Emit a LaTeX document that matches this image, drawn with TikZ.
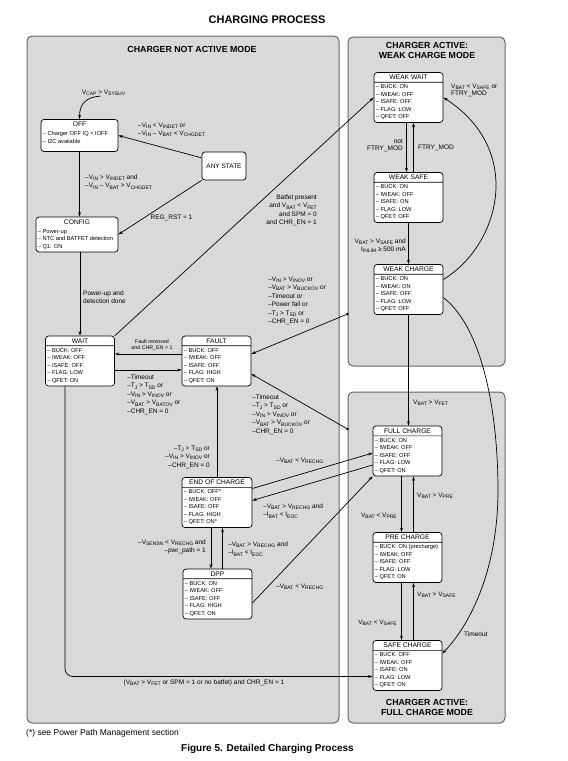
\documentclass[tikz,border=0pt]{standalone}
\usepackage{fontspec}
\setmainfont{Liberation Sans}
\usetikzlibrary{shapes.multipart}
\usetikzlibrary{arrows.meta}
\usetikzlibrary{positioning}

\newcommand{\lo}[1]{\raisebox{-0.35ex}{\fontsize{5}{5}\selectfont#1}}
\newcommand{\hdr}{\fontsize{6.7}{8}\selectfont}

\begin{document}
\begin{tikzpicture}[x=1pt,y=-1pt,>={Stealth[length=4.5pt,width=3pt]},
	modebox/.style={draw=black!60,line width=1pt,fill=black!15,rounded corners=5pt,inner sep=0pt},
	modetitle/.style={inner sep=0pt,align=center,font=\fontsize{8.8}{9.3}\selectfont\bfseries},
	statebox/.style={rectangle split,rectangle split parts=2,rectangle split part align={center,left},draw,fill=white,rounded corners=3pt,line width=0.7pt,minimum width=69pt,inner xsep=1.8pt,inner ysep=2.2pt,align=left,font=\fontsize{5.7}{7.5}\selectfont},
	simplebox/.style={draw,fill=white,rounded corners=3pt,line width=0.7pt,font=\fontsize{6.5}{8}\selectfont},
	lbl/.style={inner sep=0pt,font=\fontsize{6.5}{8.5}\selectfont},
	conn/.style={->,line width=0.7pt}]
	
	\useasboundingbox (0,0) rectangle (568,761);
	
	% modes
	\node[modebox,minimum width=312pt,minimum height=687pt] (notactive) at (183,379.5) {};
	\node[modebox,minimum width=157pt,minimum height=329pt] (weakmode) at (426.5,201.5) {};
	\node[modebox,minimum width=157pt,minimum height=331pt] (fullmode) at (426.5,557.5) {};
	\node[modetitle] (t1) at (192,49) {CHARGER NOT ACTIVE MODE};
	\node[modetitle] (t2) at (427,50.5) {CHARGER ACTIVE:\\WEAK CHARGE MODE};
	\node[modetitle] (t3) at (427,707.5) {CHARGER ACTIVE:\\FULL CHARGE MODE};
	\node[inner sep=0pt,font=\fontsize{11}{13}\selectfont\bfseries] (title) at (267,20) {CHARGING PROCESS};
	
	% states
	\node[statebox,rectangle split draw splits=false,minimum width=77pt] (off) at (79.5,135.5) {{\hdr OFF}\nodepart{two}– Charger OFF IQ < IOFF\\– I2C available\\[-2pt]};
	\node[simplebox,minimum width=44pt,minimum height=28pt] (anystate) at (224,166) {ANY STATE};
	\node[statebox,rectangle split draw splits=false,minimum width=82pt] (config) at (77,234.5) {{\hdr CONFIG}\nodepart{two}– Power-up\\– NTC and BATFET detection\\– Q1: ON};
	\node[statebox] (wait) at (80,361) {{\hdr WAIT}\nodepart{two}– BUCK: OFF\\– IWEAK: OFF\\– ISAFE: OFF\\– FLAG: LOW\\– QFET: ON};
	\node[statebox] (fault) at (216.5,361) {{\hdr FAULT}\nodepart{two}– BUCK: OFF\\– IWEAK: OFF\\– ISAFE: OFF\\– FLAG: HIGH\\– QFET: ON};
	\node[statebox,minimum width=70pt] (eoc) at (217,502.5) {{\hdr END OF CHARGE}\nodepart{two}– BUCK: OFF*\\– IWEAK: OFF\\– ISAFE: OFF\\– FLAG: HIGH\\– QFET: ON*};
	\node[statebox] (dpp) at (217.5,594) {{\hdr DPP}\nodepart{two}– BUCK: ON\\– IWEAK: OFF\\– ISAFE: OFF\\– FLAG: HIGH\\– QFET: ON};
	\node[statebox] (weakwait) at (408.5,97.5) {{\hdr WEAK WAIT}\nodepart{two}– BUCK: ON\\– IWEAK: OFF\\– ISAFE: OFF\\– FLAG: LOW\\– QFET: OFF};
	\node[statebox] (weaksafe) at (408.5,197.5) {{\hdr WEAK SAFE}\nodepart{two}– BUCK: ON\\– IWEAK: OFF\\– ISAFE: ON\\– FLAG: LOW\\– QFET: OFF};
	\node[statebox] (weakcharge) at (408.5,289.5) {{\hdr WEAK CHARGE}\nodepart{two}– BUCK: ON\\– IWEAK: ON\\– ISAFE: OFF\\– FLAG: LOW\\– QFET: OFF};
	\node[statebox] (fullcharge) at (407.5,451) {{\hdr FULL CHARGE}\nodepart{two}– BUCK: ON\\– IWEAK: OFF\\– ISAFE: OFF\\– FLAG: LOW\\– QFET: ON};
	\node[statebox] (precharge) at (407.5,557.5) {{\hdr PRE CHARGE}\nodepart{two}– BUCK: ON (precharge)\\– IWEAK: OFF\\– ISAFE: OFF\\– FLAG: LOW\\– QFET: ON};
	\node[statebox] (safecharge) at (407.5,665.5) {{\hdr SAFE CHARGE}\nodepart{two}– BUCK: OFF\\– IWEAK: OFF\\– ISAFE: ON\\– FLAG: LOW\\– QFET: ON};
	
	\coordinate (weakdot) at (weakmode.west |- 0,314);
	\coordinate (fulldot) at (fullmode.west |- 0,429);
	
	% labels
	\node[lbl] (vcap) at (103.5,93) {V\lo{CAP} > V\lo{SYSUV}};
	\node[lbl,anchor=north west,align=left] (l1) at (138,122.5) {–V\lo{IN} < V\lo{INDET} or\\–V\lo{IN} – V\lo{BAT} < V\lo{CHGDET}};
	\node[lbl,anchor=north west,align=left] (l2) at (85,174.5) {–V\lo{IN} > V\lo{INDET} and\\–V\lo{IN} – V\lo{BAT} > V\lo{CHGDET}};
	\node[lbl] (l3) at (171.5,218) {REG\_RST = 1};
	\node[lbl,anchor=north west,align=left] (l4) at (83,290.5) {Power-up and\\detection done};
	\node[lbl,anchor=north east,align=right] (l5) at (317,194.5) {Batfet present\\and V\lo{BAT} < V\lo{FET}\\and SPM = 0\\and CHR\_EN = 1};
	\node[lbl,anchor=north,align=center,font=\fontsize{5.3}{5.8}\selectfont] (l6) at (152,339.5) {Fault removed\\and CHR\_EN = 1};
	\node[lbl,anchor=north west,align=left] (l7) at (127,374.5) {–Timeout\\–T\lo{J} > T\lo{SD} or\\–V\lo{IN} > V\lo{INOV} or\\–V\lo{BAT} > V\lo{BATOV} or\\–CHR\_EN = 0};
	\node[lbl,anchor=north west,align=left] (l8) at (268,276.5) {–V\lo{IN} > V\lo{INOV} or\\–V\lo{BAT} > V\lo{BUCKOV} or\\–Timeout or\\–Power fail or\\–T\lo{J} > T\lo{SD} or\\–CHR\_EN = 0};
	\node[lbl,anchor=north west,align=left] (l9) at (252,394.5) {–Timeout\\–T\lo{J} > T\lo{SD} or\\–V\lo{IN} > V\lo{INOV} or\\–V\lo{BAT} > V\lo{BUCKOV} or\\–CHR\_EN = 0};
	\node[lbl,anchor=north east,align=right] (l10) at (210,445.5) {–T\lo{J} > T\lo{SD} or\\–V\lo{IN} > V\lo{INOV} or\\–CHR\_EN = 0};
	\node[lbl,anchor=west] (l11) at (276,461) {–V\lo{BAT} < V\lo{RECHG}};
	\node[lbl,anchor=north west,align=left] (l12) at (263,503.5) {–V\lo{BAT} > V\lo{RECHG} and\\–I\lo{BAT} < I\lo{EOC}};
	\node[lbl,anchor=north east,align=right] (l13) at (206,539.5) {–V\lo{SENSN} < V\lo{RECHG} and\\–pwr\_path = 1};
	\node[lbl,anchor=north west,align=left] (l14) at (228,541.5) {–V\lo{BAT} > V\lo{RECHG} and\\–I\lo{BAT} < I\lo{EOC}};
	\node[lbl,anchor=west] (l15) at (276,587) {–V\lo{BAT} < V\lo{RECHG}};
	\node[lbl] (l16) at (204,683) {(V\lo{BAT} > V\lo{FET} or SPM = 1 or no batfet) and CHR\_EN = 1};
	\node[lbl,anchor=north east,align=right,font=\fontsize{6.5}{6.8}\selectfont] (l17) at (403,139.5) {not\\FTRY\_MOD};
	\node[lbl,anchor=west] (l18) at (418,148) {FTRY\_MOD};
	\node[lbl,anchor=north east,align=right,font=\fontsize{6.5}{8}\selectfont] (l19) at (406,238.5) {V\lo{BAT} > V\lo{SAFE} and\\I\lo{INLIM} ≥ 500 mA};
	\node[lbl,anchor=north west,align=left,font=\fontsize{6.5}{7}\selectfont] (l20) at (451,83.5) {V\lo{BAT} < V\lo{SAFE} or\\FTRY\_MOD};
	\node[lbl,anchor=west] (l21) at (413,403) {V\lo{BAT} > V\lo{FET}};
	\node[lbl,anchor=west] (l22) at (464,634) {Timeout};
	\node[lbl,anchor=east] (l23) at (397,516) {V\lo{BAT} < V\lo{PRE}};
	\node[lbl,anchor=west] (l24) at (417,496) {V\lo{BAT} > V\lo{PRE}};
	\node[lbl,anchor=east] (l25) at (397,623) {V\lo{BAT} < V\lo{SAFE}};
	\node[lbl,anchor=west] (l26) at (417,595) {V\lo{BAT} > V\lo{SAFE}};
	\node[anchor=west,inner sep=0pt,font=\fontsize{8.5}{10}\selectfont] (note) at (26,733) {(*) see Power Path Management section};
	\node[inner sep=0pt,font=\fontsize{10}{12}\selectfont\bfseries] (caption) at (267.5,749) {Figure 5. Detailed Charging Process};
	
	% transitions
	\draw[conn] ([xshift=-3pt]vcap.south) .. controls (86,97) and (79.5,104) .. (off.north);
	\draw[conn] (anystate.160) -- (off.east);
	\draw[conn] (off.south) -- (off.south |- config.north);
	\draw[conn] (anystate.south west) -- (config.east);
	\draw[conn] (wait.north |- config.south) -- (wait.north);
	\draw[conn] (wait.north east) -- (weakwait.west);
	\draw[conn] ([yshift=7pt]fault.west) -- ([yshift=7pt]fault.west -| wait.east);
	\draw[conn] ([yshift=-9pt]wait.east) -- ([yshift=-9pt]wait.east -| fault.west);
	\draw[conn] (weakdot) -- ([yshift=7pt]fault.east);
	\draw[conn] (fulldot) -- ([yshift=-13pt]fault.east);
	\fill (weakdot) circle (1.3);
	\fill (fulldot) circle (1.3);
	\draw[conn] (eoc.north) -- (eoc.north |- fault.south);
	\draw[conn] ([yshift=14pt]eoc.east) -- ([yshift=-2pt]fullcharge.west);
	\draw[conn] ([yshift=-14pt]fullcharge.west) -- ([yshift=2pt]eoc.east);
	\draw[conn] ([xshift=-6pt]eoc.south) -- ([xshift=-6pt]eoc.south |- dpp.north);
	\draw[conn] ([xshift=5pt]dpp.north) -- ([xshift=5pt]dpp.north |- eoc.south);
	\draw[conn] ([yshift=-9pt]dpp.east) -- (fullcharge.south west);
	\draw[conn,rounded corners=8pt] ([xshift=-15pt]wait.south) |- ([yshift=-11pt]safecharge.west);
	
	\draw[conn] ([xshift=-2pt]weakwait.south) -- ([xshift=-2pt]weakwait.south |- weaksafe.north);
	\draw[conn] ([xshift=5pt]weaksafe.north) -- ([xshift=5pt]weaksafe.north |- weakwait.south);
	\draw[conn] (weaksafe.south) -- (weakcharge.north);
	\draw[conn] ([yshift=10pt]weakcharge.east) .. controls (500,245) and (525,150) .. (weakwait.east);
	\draw[conn] (weakcharge.south) -- (weakcharge.south |- fullcharge.north);
	\draw[conn] ([yshift=-8pt]weakcharge.east) .. controls (485,330) and (498,420) .. (498,490) .. controls (498,570) and (470,625) .. ([yshift=12pt]safecharge.east);
	
	\draw[conn] ([xshift=-6pt]fullcharge.south) -- ([xshift=-6pt]fullcharge.south |- precharge.north);
	\draw[conn] ([xshift=6pt]precharge.north) -- ([xshift=6pt]precharge.north |- fullcharge.south);
	\draw[conn] ([xshift=-6pt]precharge.south) -- ([xshift=-6pt]precharge.south |- safecharge.north);
	\draw[conn] ([xshift=6pt]safecharge.north) -- ([xshift=6pt]safecharge.north |- precharge.south);
	
\end{tikzpicture}
\end{document}
